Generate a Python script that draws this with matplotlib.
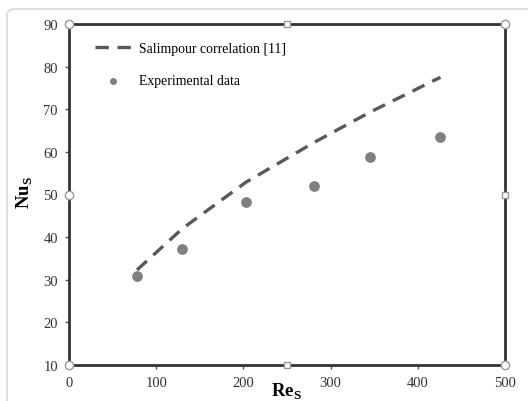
import matplotlib.pyplot as plt
from matplotlib.patches import FancyBboxPatch

re_exp = [78, 130, 203, 281, 345, 426]
nu_exp = [30.9, 37.2, 48.2, 52.0, 58.7, 63.5]

re_corr = [78, 130, 203, 281, 345, 426]
nu_corr = [32.3, 42.0, 52.9, 62.2, 69.3, 77.5]

x_ticks = [0, 100, 200, 300, 400, 500]
y_ticks = [10, 20, 30, 40, 50, 60, 70, 80, 90]

plt.rcParams["font.family"] = ["Liberation Serif", "DejaVu Serif"]

fig = plt.figure(figsize=(5.28, 4.02), dpi=100)
W, H = 528, 402
ax = fig.add_axes([69 / W, 1 - 366 / H, (505 - 69) / W, (366 - 25) / H])

# outer frame of the pasted picture
fig.patches.append(FancyBboxPatch(
    (7 / W, -0.05), 1.2, 1 - 10 / H + 0.05,
    boxstyle="round,pad=0,rounding_size=0.015",
    transform=fig.transFigure, facecolor="none",
    edgecolor="#d9d9d9", lw=1.2,
))

ax.plot(re_corr, nu_corr, color="#595959", lw=2.4, dashes=(4.0, 2.6),
        label="Salimpour correlation [11]", zorder=3)
ax.scatter(re_exp, nu_exp, color="#808080", s=45, zorder=3,
           label="Experimental data")

ax.set_xlim(0, 500)
ax.set_ylim(10, 90)
ax.set_xticks(x_ticks)
ax.set_yticks(y_ticks)
for s in ax.spines.values():
    s.set_color("#333333")
    s.set_linewidth(2)
ax.tick_params(direction="out", length=3, width=1, color="#555555",
               labelsize=10.5, labelcolor="#333333", pad=5)

fig.text(25 / W, 1 - 193 / H, "Nu$_\\mathregular{S}$", fontsize=13.5,
         fontweight="bold", rotation=90, ha="center", va="center")
fig.text(286 / W, 1 - 392 / H, "Re$_\\mathregular{S}$", fontsize=13.5,
         fontweight="bold", ha="center", va="center")

leg = ax.legend(loc="upper left", bbox_to_anchor=(26 / 436, 1 - 18 / 341),
                frameon=False, fontsize=9.9, handlelength=2.6,
                handletextpad=0.6, labelspacing=1.4, borderpad=0,
                borderaxespad=0, markerscale=0.6)

# selection handles
hx = [0, 250, 500, 0, 500, 0, 250, 500]
hy = [90, 90, 90, 50, 50, 10, 10, 10]
hm = ["o", "s", "o", "o", "s", "o", "s", "o"]
for x, y, m in zip(hx, hy, hm):
    ax.plot(x, y, marker=m, ms=6 if m == "o" else 5, mfc="white",
            mec="#999999", mew=1, clip_on=False, zorder=5)

fig.savefig("out.png", dpi=100)
